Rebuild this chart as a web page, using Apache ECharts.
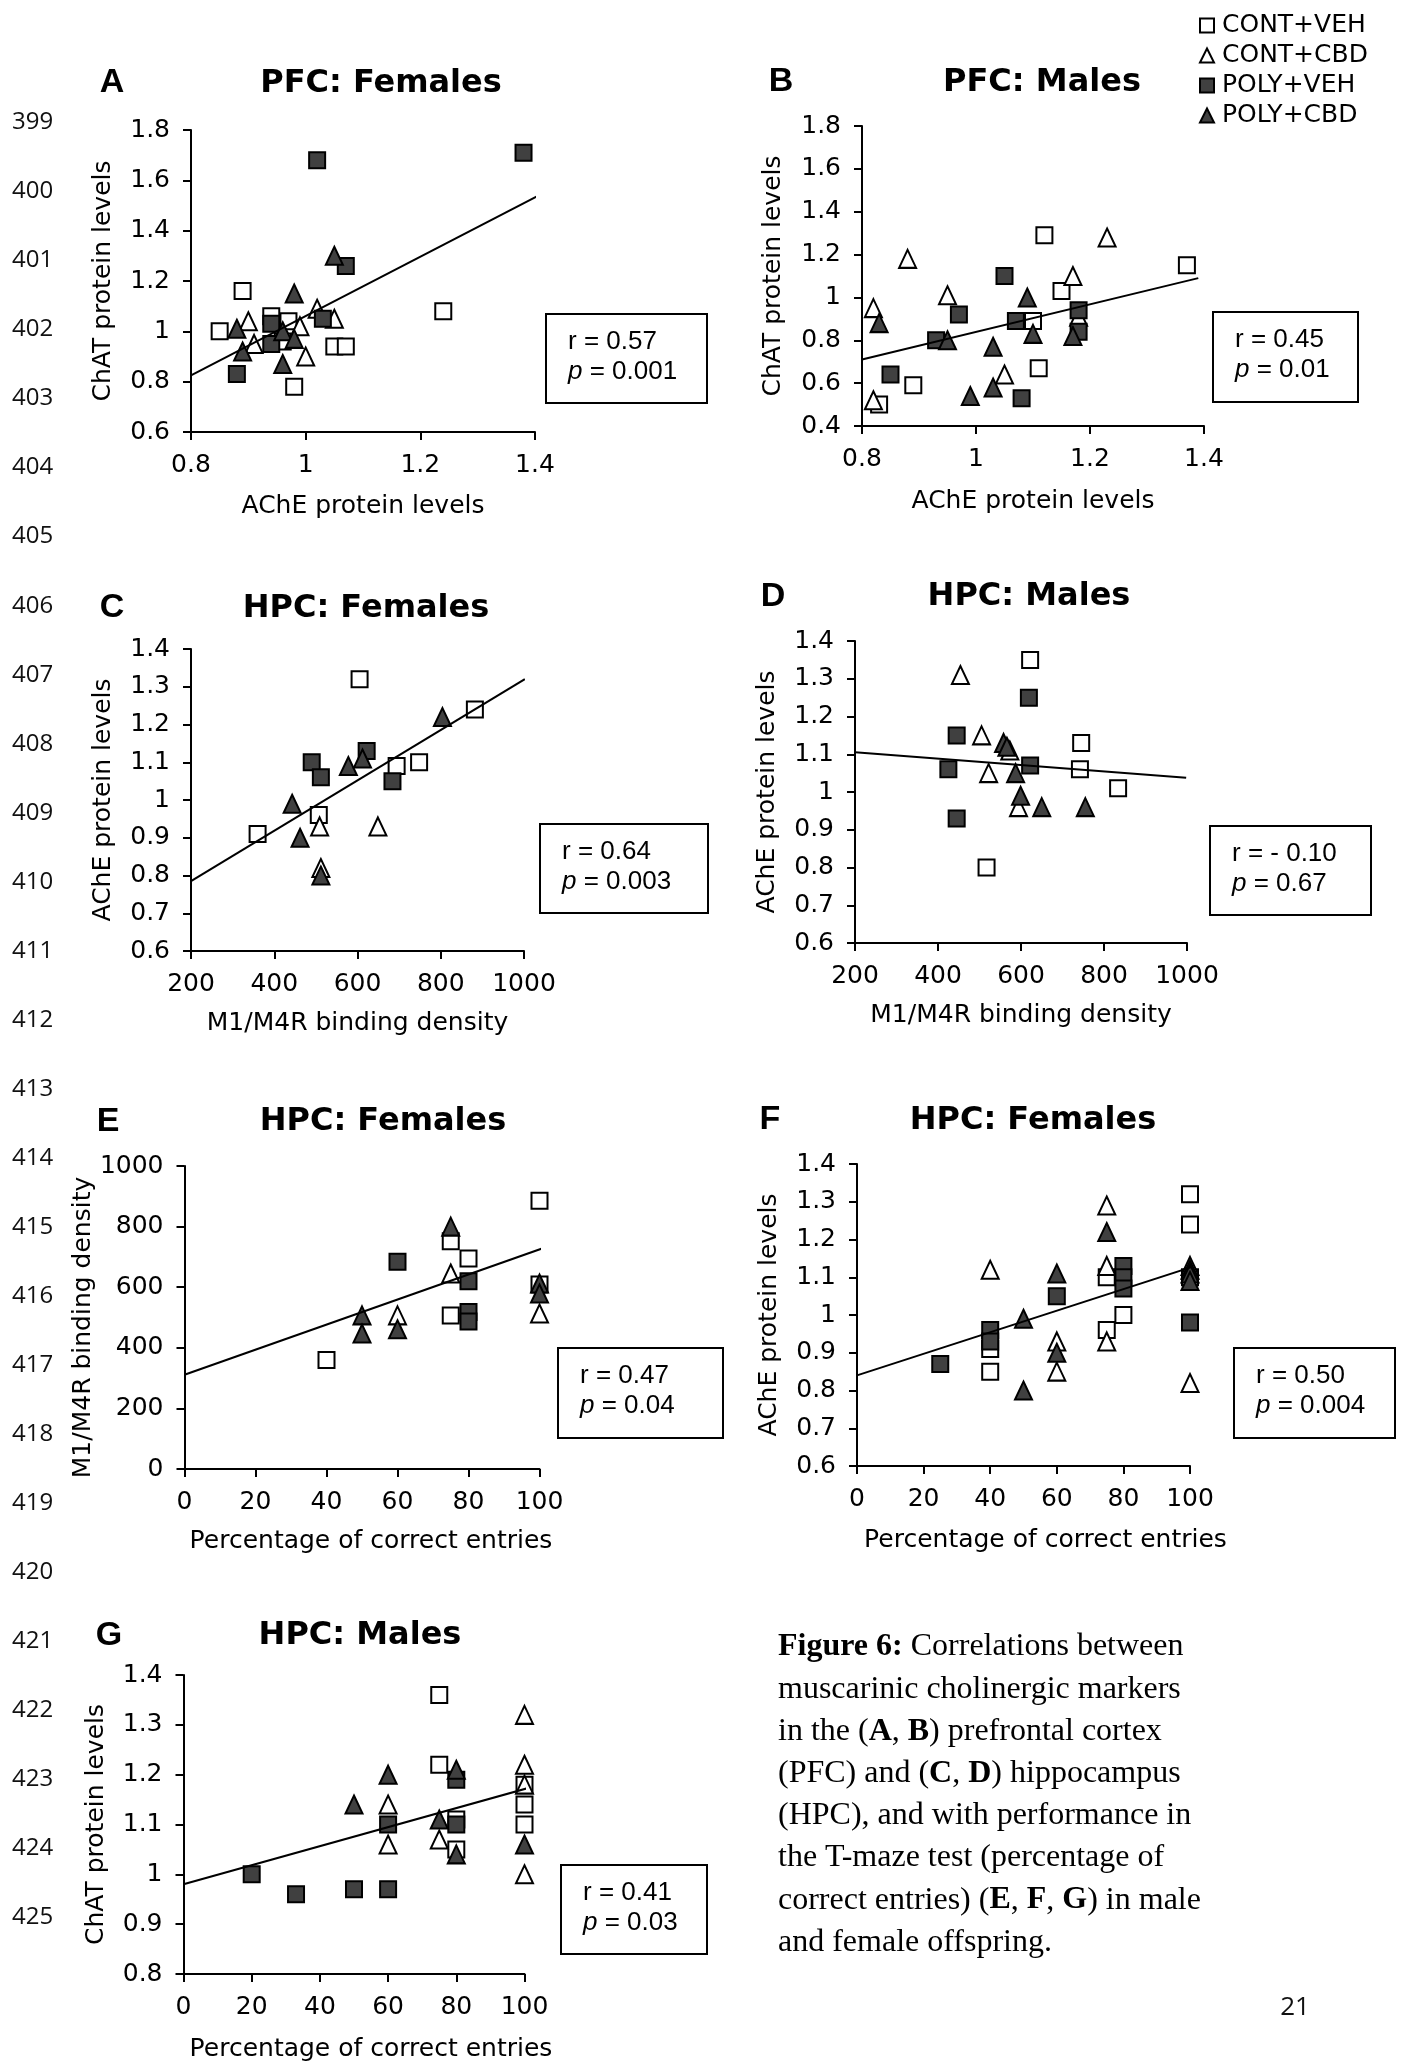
<!DOCTYPE html>
<html><head><meta charset="utf-8">
<script src="https://cdn.jsdelivr.net/npm/echarts@6/dist/echarts.min.js"></script>
<style>html,body{margin:0;padding:0;background:#fff;} #c{width:1403px;height:2063px;}</style>
</head><body><div id="c"></div>
<script>
const groupNames = ['CONT+VEH', 'CONT+CBD', 'POLY+VEH', 'POLY+CBD'];

// ---- Panel A: PFC Females (AChE vs ChAT)
const A_xTicks = [0.8, 1, 1.2, 1.4];
const A_yTicks = [0.6, 0.8, 1, 1.2, 1.4, 1.6, 1.8];
const A_contVeh = [[0.85,1.00],[0.89,1.16],[0.94,1.06],[0.97,1.04],[0.96,0.96],[1.05,0.94],[1.07,0.94],[0.98,0.78],[1.24,1.08]];
const A_contCbd = [[0.90,1.04],[0.91,0.95],[0.99,1.02],[1.00,0.90],[1.02,1.09],[1.05,1.05]];
const A_polyVeh = [[0.88,0.83],[0.94,1.03],[0.94,0.95],[1.03,1.05],[1.07,1.26],[1.02,1.68],[1.38,1.71]];
const A_polyCbd = [[0.88,1.01],[0.89,0.92],[0.96,1.00],[0.98,0.97],[0.96,0.87],[0.98,1.15],[1.05,1.30]];
const A_fit = [[0.8,0.825],[1.41,1.544]];

// ---- Panel B: PFC Males
const B_xTicks = [0.8, 1, 1.2, 1.4];
const B_yTicks = [0.4, 0.6, 0.8, 1, 1.2, 1.4, 1.6, 1.8];
const B_contVeh = [[1.12,1.29],[1.37,1.15],[1.15,1.03],[1.10,0.89],[1.11,0.67],[0.89,0.59],[0.83,0.50]];
const B_contCbd = [[0.88,1.18],[1.23,1.28],[1.17,1.10],[0.95,1.01],[0.82,0.95],[1.05,0.64],[0.82,0.52],[1.18,0.91]];
const B_polyVeh = [[1.05,1.10],[0.97,0.92],[1.07,0.89],[1.18,0.94],[1.18,0.84],[0.93,0.80],[0.85,0.64],[1.08,0.53]];
const B_polyCbd = [[0.83,0.88],[0.95,0.80],[1.03,0.77],[1.09,1.00],[1.10,0.83],[1.17,0.82],[0.99,0.54],[1.03,0.58]];
const B_fit = [[0.8,0.71],[1.39,1.09]];

// ---- Panel C: HPC Females (M1/M4R vs AChE)
const C_xTicks = [200, 400, 600, 800, 1000];
const C_yTicks = [0.6, 0.7, 0.8, 0.9, 1, 1.1, 1.2, 1.3, 1.4];
const C_contVeh = [[605,1.32],[882,1.24],[748,1.10],[694,1.09],[507,0.96],[360,0.91]];
const C_contCbd = [[649,0.93],[509,0.93],[512,0.82]];
const C_polyVeh = [[490,1.10],[512,1.06],[622,1.13],[684,1.05]];
const C_polyCbd = [[804,1.22],[578,1.09],[612,1.11],[443,0.99],[462,0.90],[512,0.80]];
const C_fit = [[200,0.785],[1002,1.32]];

// ---- Panel D: HPC Males
const D_xTicks = [200, 400, 600, 800, 1000];
const D_yTicks = [0.6, 0.7, 0.8, 0.9, 1, 1.1, 1.2, 1.3, 1.4];
const D_contVeh = [[622,1.35],[745,1.13],[742,1.06],[834,1.01],[517,0.80]];
const D_contCbd = [[454,1.31],[505,1.15],[573,1.11],[522,1.05],[594,0.96]];
const D_polyVeh = [[445,1.15],[619,1.25],[425,1.06],[622,1.07],[445,0.93]];
const D_polyCbd = [[558,1.13],[566,1.12],[587,1.05],[599,0.99],[650,0.96],[755,0.96]];
const D_fit = [[200,1.105],[998,1.038]];

// ---- Panel E: HPC Females (% correct vs M1/M4R)
const E_xTicks = [0, 20, 40, 60, 80, 100];
const E_yTicks = [0, 200, 400, 600, 800, 1000];
const E_contVeh = [[100,885],[75,752],[80,695],[100,609],[75,507],[40,360]];
const E_contCbd = [[75,645],[60,507],[100,513]];
const E_polyVeh = [[60,684],[80,620],[80,518],[80,487]];
const E_polyCbd = [[75,800],[50,507],[50,447],[60,461],[100,612],[100,579]];
const E_fit = [[0,311],[102.5,735]];

// ---- Panel F: HPC Females (% correct vs AChE)
const F_xTicks = [0, 20, 40, 60, 80, 100];
const F_yTicks = [0.6, 0.7, 0.8, 0.9, 1, 1.1, 1.2, 1.3, 1.4];
const F_contVeh = [[100,1.32],[100,1.24],[100,1.10],[75,1.10],[80,1.00],[75,0.96],[40,0.91],[40,0.85]];
const F_contCbd = [[75,1.29],[75,1.13],[40,1.12],[60,0.93],[60,0.85],[75,0.93],[100,1.13],[100,0.82]];
const F_polyVeh = [[80,1.13],[80,1.10],[80,1.07],[60,1.05],[40,0.96],[40,0.93],[25,0.87],[100,0.98]];
const F_polyCbd = [[75,1.22],[60,1.11],[60,0.90],[50,0.99],[50,0.80],[100,1.12],[100,1.11],[100,1.09]];
const F_fit = [[0,0.84],[103.6,1.136]];

// ---- Panel G: HPC Males (% correct vs ChAT)
const G_xTicks = [0, 20, 40, 60, 80, 100];
const G_yTicks = [0.8, 0.9, 1, 1.1, 1.2, 1.3, 1.4];
const G_contVeh = [[75,1.36],[75,1.22],[80,1.11],[80,1.05],[100,1.18],[100,1.14],[100,1.10]];
const G_contCbd = [[60,1.14],[60,1.06],[75,1.07],[100,1.32],[100,1.22],[100,1.18],[100,1.00]];
const G_polyVeh = [[20,1.00],[33,0.96],[50,0.97],[60,0.97],[60,1.10],[80,1.19],[80,1.10]];
const G_polyCbd = [[50,1.14],[60,1.20],[75,1.11],[80,1.21],[80,1.04],[100,1.06]];
const G_fit = [[0,0.98],[104.6,1.18]];

// ---- Text content
const panelLetters = ['A','B','C','D','E','F','G'];
const panelTitles = ['PFC: Females','PFC: Males','HPC: Females','HPC: Males','HPC: Females','HPC: Females','HPC: Males'];
const xNames = ['AChE protein levels','AChE protein levels','M1/M4R binding density','M1/M4R binding density','Percentage of correct entries','Percentage of correct entries','Percentage of correct entries'];
const yNames = ['ChAT protein levels','ChAT protein levels','AChE protein levels','AChE protein levels','M1/M4R binding density','AChE protein levels','ChAT protein levels'];
const rValues = ['0.57','0.45','0.64','- 0.10','0.47','0.50','0.41'];
const pValues = ['0.001','0.01','0.003','0.67','0.04','0.004','0.03'];
const lineNumbers = [399,400,401,402,403,404,405,406,407,408,409,410,411,412,413,414,415,416,417,418,419,420,421,422,423,424,425];
const captionLines = [
  '{b|Figure 6:} Correlations between',
  'muscarinic cholinergic markers',
  'in the ({b|A}, {b|B}) prefrontal cortex',
  '(PFC) and ({b|C}, {b|D}) hippocampus',
  '(HPC), and with performance in',
  'the T-maze test (percentage of',
  'correct entries) ({b|E}, {b|F}, {b|G}) in male',
  'and female offspring.'
];
const pageNumber = '21';

// ---- Layout (positions / sizes)
const panelData = [
  {xT:A_xTicks,yT:A_yTicks,d:[A_contVeh,A_contCbd,A_polyVeh,A_polyCbd],fit:A_fit},
  {xT:B_xTicks,yT:B_yTicks,d:[B_contVeh,B_contCbd,B_polyVeh,B_polyCbd],fit:B_fit},
  {xT:C_xTicks,yT:C_yTicks,d:[C_contVeh,C_contCbd,C_polyVeh,C_polyCbd],fit:C_fit},
  {xT:D_xTicks,yT:D_yTicks,d:[D_contVeh,D_contCbd,D_polyVeh,D_polyCbd],fit:D_fit},
  {xT:E_xTicks,yT:E_yTicks,d:[E_contVeh,E_contCbd,E_polyVeh,E_polyCbd],fit:E_fit},
  {xT:F_xTicks,yT:F_yTicks,d:[F_contVeh,F_contCbd,F_polyVeh,F_polyCbd],fit:F_fit},
  {xT:G_xTicks,yT:G_yTicks,d:[G_contVeh,G_contCbd,G_polyVeh,G_polyCbd],fit:G_fit}
];
const gridBoxes = [
  [191,130,344,302],[862,126,342,300],[191,649,333,302],[855,641,332,302],
  [184.5,1166,355,303],[857,1164,333,302],[183.5,1675,341,302]
];
const xNameGaps = [62,63,60,60,60,62,63];
const yNameGaps = [75,76,75,75,82,75,75];
// padding used to shift axis names off-centre like the reference
const xNamePad = [[0,0,0,0],[0,0,0,0],[0,0,0,0],[0,0,0,0],[0,0,0,18],[0,0,0,44],[0,0,0,34]];
const yNamePad = [[0,0,0,0],[0,0,0,0],[0,0,0,0],[0,0,0,0],[0,20,0,0],[0,0,0,0],[0,0,0,0]];
const letterPos = [[112,83],[781,82],[112,608],[773,597],[108,1122],[770,1120],[109,1636]];
const titlePos = [[381,84],[1042,83],[366,609],[1029,597],[383,1122],[1033,1121],[360,1636]];
const statBoxes = [[546,314,161,89],[1213,312,145,90],[540,824,168,89],[1210,826,161,89],[558,1348,165,90],[1234,1348,161,90],[561,1865,146,89]];

const FONT = 'DejaVu Sans';
const DARK = '#404040';
const groupStyle = [
  {symbol:'rect', size:16, fill:'#ffffff'},
  {symbol:'triangle', size:[17,18], fill:'#ffffff'},
  {symbol:'rect', size:16, fill:DARK},
  {symbol:'triangle', size:[17,18], fill:DARK}
];

function range(t){
  return {min:t[0], max:t[t.length-1], interval:+(t[1]-t[0]).toFixed(6)};
}
function fmt(v){ return String(Math.round(v*1e6)/1e6); }

const grids = [], xAxes = [], yAxes = [], series = [], graphics = [];
panelData.forEach((p, i) => {
  const g = gridBoxes[i];
  grids.push({left:g[0], top:g[1], width:g[2], height:g[3], containLabel:false});
  const axisCommon = {
    axisLine:{show:true, onZero:false, lineStyle:{color:'#000', width:2}},
    axisTick:{show:true, inside:false, length:8, lineStyle:{color:'#000', width:2}},
    splitLine:{show:false},
    nameLocation:'middle'
  };
  xAxes.push(Object.assign({type:'value', gridIndex:i, name:xNames[i], nameGap:xNameGaps[i],
    nameTextStyle:{fontFamily:FONT, fontSize:25, color:'#000', padding:xNamePad[i]},
    axisLabel:{fontFamily:FONT, fontSize:25, color:'#000', margin:21, formatter:fmt}}, axisCommon, range(p.xT)));
  yAxes.push(Object.assign({type:'value', gridIndex:i, name:yNames[i], nameGap:yNameGaps[i],
    nameTextStyle:{fontFamily:FONT, fontSize:25, color:'#000', padding:yNamePad[i]},
    axisLabel:{fontFamily:FONT, fontSize:25, color:'#000', margin:21, formatter:fmt}}, axisCommon, range(p.yT)));
  p.d.forEach((arr, k) => {
    const st = groupStyle[k];
    series.push({
      type:'scatter', name:groupNames[k], xAxisIndex:i, yAxisIndex:i, data:arr,
      symbol:st.symbol, symbolSize:st.size,
      itemStyle:{color:st.fill, borderColor:'#000', borderWidth:2, opacity:1},
      emphasis:{disabled:true}, silent:true, z:2+k
    });
  });
  series.push({
    type:'line', xAxisIndex:i, yAxisIndex:i, data:p.fit, symbol:'none', silent:true,
    lineStyle:{color:'#000', width:2}, z:10
  });

  graphics.push({type:'text', x:letterPos[i][0], y:letterPos[i][1],
    style:{text:panelLetters[i], fontFamily:'Liberation Sans', fontWeight:'bold', fontSize:34, fill:'#000',
      textAlign:'center', textVerticalAlign:'middle', align:'center', verticalAlign:'middle'}});
  graphics.push({type:'text', x:titlePos[i][0], y:titlePos[i][1],
    style:{text:panelTitles[i], fontFamily:FONT, fontWeight:'bold', fontSize:32, fill:'#000',
      textAlign:'center', textVerticalAlign:'middle', align:'center', verticalAlign:'middle'}});
  const b = statBoxes[i];
  graphics.push({type:'rect', shape:{x:b[0], y:b[1], width:b[2], height:b[3]},
    style:{fill:'#fff', stroke:'#000', lineWidth:2}});
  graphics.push({type:'text', x:b[0]+22, y:b[1]+28,
    style:{text:'r = ' + rValues[i], fontFamily:'Liberation Sans', fontSize:26, fill:'#000',
      textAlign:'left', textVerticalAlign:'middle', align:'left', verticalAlign:'middle'}});
  graphics.push({type:'text', x:b[0]+22, y:b[1]+58,
    style:{text:'{i|p} = ' + pValues[i], fontFamily:'Liberation Sans', fontSize:26, fill:'#000',
      rich:{i:{fontFamily:'Liberation Sans', fontSize:26, fontStyle:'italic', fill:'#000'}},
      textAlign:'left', textVerticalAlign:'middle', align:'left', verticalAlign:'middle'}});
});

lineNumbers.forEach((n, j) => {
  graphics.push({type:'text', x:12, y:122.4 + j*69.04,
    style:{text:String(n), fontFamily:'Open Sans', fontSize:24, fill:'#111',
      textAlign:'left', textVerticalAlign:'middle', align:'left', verticalAlign:'middle'}});
});

captionLines.forEach((ln, j) => {
  graphics.push({type:'text', x:778, y:1647 + j*42.2,
    style:{text:ln, fontFamily:'Liberation Serif', fontSize:32, fill:'#000',
      rich:{b:{fontFamily:'Liberation Serif', fontSize:32, fontWeight:'bold', fill:'#000'}},
      textAlign:'left', textVerticalAlign:'middle', align:'left', verticalAlign:'middle'}});
});

graphics.push({type:'text', x:1295, y:2008,
  style:{text:pageNumber, fontFamily:'Open Sans', fontSize:26, fill:'#111',
    textAlign:'center', textVerticalAlign:'middle', align:'center', verticalAlign:'middle'}});

const chart = echarts.init(document.getElementById('c'), null, {renderer:'canvas'});
chart.setOption({
  backgroundColor:'#fff',
  animation:false,
  legend:{
    data:groupNames, orient:'vertical', left:1194, top:8, itemWidth:14, itemHeight:14, itemGap:5,
    selectedMode:false,
    textStyle:{fontFamily:FONT, fontSize:25, color:'#000', lineHeight:23, padding:[0,0,0,3]}
  },
  grid:grids, xAxis:xAxes, yAxis:yAxes, series:series, graphic:graphics
});
</script></body></html>
